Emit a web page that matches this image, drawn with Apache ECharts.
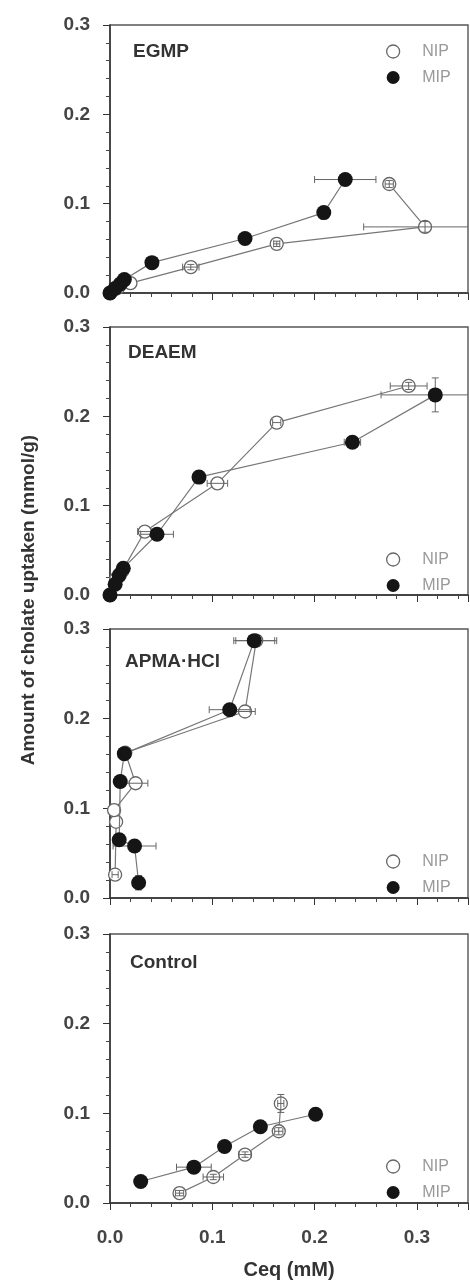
<!DOCTYPE html>
<html>
<head>
<meta charset="utf-8">
<script src="https://cdn.jsdelivr.net/npm/echarts@6/dist/echarts.min.js"></script>
<style>
  html, body { margin: 0; padding: 0; background: #fff; }
  #main { width: 470px; height: 1284px; }
</style>
</head>
<body>
<div id="main"></div>
<script>
// axis ticks
const xTicks = [0, 0.1, 0.2, 0.3]
const yTicks = [0, 0.1, 0.2, 0.3]
const panelNames = ['EGMP', 'DEAEM', 'APMA·HCl', 'Control']

// EGMP
const egmpNipX = [0, 0.008, 0.020, 0.079, 0.163, 0.308, 0.273]
const egmpNipY = [0, 0.006, 0.011, 0.029, 0.055, 0.074, 0.122]
const egmpNipXErr = [0, 0, 0, 0.008, 0.003, 0.060, 0.004]
const egmpNipYErr = [0, 0, 0, 0.003, 0.003, 0.006, 0.004]
const egmpMipX = [0, 0.005, 0.010, 0.014, 0.041, 0.132, 0.209, 0.230]
const egmpMipY = [0, 0.005, 0.010, 0.015, 0.034, 0.061, 0.090, 0.127]
const egmpMipXErr = [0, 0, 0, 0, 0, 0, 0, 0.030]
const egmpMipYErr = [0, 0, 0, 0, 0, 0, 0, 0]

// DEAEM
const deaemNipX = [0, 0.006, 0.012, 0.034, 0.105, 0.163, 0.292]
const deaemNipY = [0, 0.018, 0.027, 0.071, 0.125, 0.193, 0.234]
const deaemNipXErr = [0, 0, 0, 0.007, 0.010, 0.004, 0.018]
const deaemNipYErr = [0, 0, 0, 0, 0, 0, 0.004]
const deaemMipX = [0, 0.005, 0.009, 0.013, 0.046, 0.087, 0.237, 0.318]
const deaemMipY = [0, 0.012, 0.022, 0.030, 0.068, 0.132, 0.171, 0.224]
const deaemMipXErr = [0, 0, 0, 0, 0.016, 0, 0.008, 0.053]
const deaemMipYErr = [0, 0, 0, 0, 0, 0, 0, 0.019]

// APMA·HCl
const apmaNipX = [0.005, 0.006, 0.004, 0.025, 0.015, 0.132, 0.143]
const apmaNipY = [0.026, 0.085, 0.098, 0.128, 0.162, 0.208, 0.287]
const apmaNipXErr = [0.003, 0, 0, 0.012, 0, 0.010, 0.020]
const apmaNipYErr = [0, 0, 0, 0, 0, 0, 0]
const apmaMipX = [0.028, 0.024, 0.009, 0.010, 0.014, 0.117, 0.141]
const apmaMipY = [0.017, 0.058, 0.065, 0.130, 0.161, 0.210, 0.287]
const apmaMipXErr = [0, 0.021, 0, 0, 0, 0.020, 0.020]
const apmaMipYErr = [0.008, 0, 0, 0, 0, 0, 0]

// Control
const ctrlNipX = [0.068, 0.101, 0.132, 0.165, 0.167]
const ctrlNipY = [0.011, 0.029, 0.054, 0.080, 0.111]
const ctrlNipXErr = [0.004, 0.010, 0.006, 0.004, 0.003]
const ctrlNipYErr = [0.003, 0.003, 0.003, 0.004, 0.010]
const ctrlMipX = [0.030, 0.082, 0.112, 0.147, 0.201]
const ctrlMipY = [0.024, 0.040, 0.063, 0.085, 0.099]
const ctrlMipXErr = [0, 0.017, 0, 0, 0]
const ctrlMipYErr = [0, 0, 0, 0, 0]

const FONT = '"Liberation Sans", Arial, sans-serif'

const groups = [
  { nip: [egmpNipX, egmpNipY, egmpNipXErr, egmpNipYErr], mip: [egmpMipX, egmpMipY, egmpMipXErr, egmpMipYErr] },
  { nip: [deaemNipX, deaemNipY, deaemNipXErr, deaemNipYErr], mip: [deaemMipX, deaemMipY, deaemMipXErr, deaemMipYErr] },
  { nip: [apmaNipX, apmaNipY, apmaNipXErr, apmaNipYErr], mip: [apmaMipX, apmaMipY, apmaMipXErr, apmaMipYErr] },
  { nip: [ctrlNipX, ctrlNipY, ctrlNipXErr, ctrlNipYErr], mip: [ctrlMipX, ctrlMipY, ctrlMipXErr, ctrlMipYErr] }
]

// layout of the four stacked panels
const gridTops = [25, 327, 629, 934]
const gridHeights = [268, 268, 269, 269]
const legendTops = [38.5, 546.5, 848.5, 1153.5]
const labelPos = [[133, 42], [128, 343], [125, 652], [130, 953]]

function zip(a) {
  return a[0].map((x, i) => [x, a[1][i], a[2][i], a[3][i]])
}

function renderErr(params, api) {
  const x = api.value(0), y = api.value(1)
  const ex = api.value(2), ey = api.value(3)
  const cs = params.coordSys
  const style = { stroke: '#666', lineWidth: 1 }
  const cap = 3.5
  const children = []
  if (ex > 0) {
    const l = api.coord([x - ex, y])
    const r = api.coord([x + ex, y])
    const lx = Math.max(l[0], cs.x)
    const rx = Math.min(r[0], cs.x + cs.width)
    children.push({ type: 'line', shape: { x1: lx, y1: l[1], x2: rx, y2: r[1] }, style })
    if (l[0] >= cs.x) children.push({ type: 'line', shape: { x1: l[0], y1: l[1] - cap, x2: l[0], y2: l[1] + cap }, style })
    if (r[0] <= cs.x + cs.width) children.push({ type: 'line', shape: { x1: r[0], y1: r[1] - cap, x2: r[0], y2: r[1] + cap }, style })
  }
  if (ey > 0) {
    const b = api.coord([x, y - ey])
    const t = api.coord([x, y + ey])
    children.push({ type: 'line', shape: { x1: b[0], y1: b[1], x2: t[0], y2: t[1] }, style })
    children.push({ type: 'line', shape: { x1: b[0] - cap, y1: b[1], x2: b[0] + cap, y2: b[1] }, style })
    children.push({ type: 'line', shape: { x1: t[0] - cap, y1: t[1], x2: t[0] + cap, y2: t[1] }, style })
  }
  return { type: 'group', children }
}

const grid = [], xAxis = [], yAxis = [], series = [], legend = [], title = []

groups.forEach((g, i) => {
  grid.push({
    left: 110, width: 358, top: gridTops[i], height: gridHeights[i],
    show: true, borderColor: '#555', borderWidth: 1.4, backgroundColor: '#fff'
  })
  xAxis.push({
    type: 'value', gridIndex: i, min: xTicks[0], max: 0.35, interval: 0.1,
    axisLine: { lineStyle: { color: '#333', width: 1.5 } },
    axisTick: { length: 7, lineStyle: { color: '#333' } },
    minorTick: { show: true, splitNumber: 5, length: 4, lineStyle: { color: '#444' } },
    splitLine: { show: false },
    axisLabel: {
      show: i === 3, margin: 25, showMaxLabel: false,
      color: '#444', fontSize: 19, fontWeight: 'bold', fontFamily: FONT,
      formatter: v => v.toFixed(1)
    },
    name: i === 3 ? 'Ceq (mM)' : '',
    nameLocation: 'middle', nameGap: 57,
    nameTextStyle: { color: '#333', fontSize: 20, fontWeight: 'bold', fontFamily: FONT, verticalAlign: 'top' }
  })
  yAxis.push({
    type: 'value', gridIndex: i, min: yTicks[0], max: yTicks[yTicks.length - 1], interval: 0.1,
    axisLine: { lineStyle: { color: '#333', width: 1.5 } },
    axisTick: { length: 7, lineStyle: { color: '#333' } },
    minorTick: { show: true, splitNumber: 5, length: 4, lineStyle: { color: '#444' } },
    splitLine: { show: false },
    axisLabel: {
      margin: 20, color: '#444', fontSize: 19, fontWeight: 'bold', fontFamily: FONT,
      formatter: v => v.toFixed(1)
    }
  })
  series.push({
    name: 'NIP', type: 'line', xAxisIndex: i, yAxisIndex: i, z: 2,
    data: zip(g.nip).map(d => [d[0], d[1]]),
    symbol: 'circle', symbolSize: 13,
    lineStyle: { color: '#777', width: 1.2 },
    itemStyle: { color: '#fff', borderColor: '#666', borderWidth: 1.3 }
  })
  series.push({
    name: 'NIP', type: 'custom', xAxisIndex: i, yAxisIndex: i, z: 3,
    data: zip(g.nip), renderItem: renderErr
  })
  series.push({
    name: 'MIP', type: 'custom', xAxisIndex: i, yAxisIndex: i, z: 3,
    data: zip(g.mip), renderItem: renderErr
  })
  series.push({
    name: 'MIP', type: 'line', xAxisIndex: i, yAxisIndex: i, z: 4,
    data: zip(g.mip).map(d => [d[0], d[1]]),
    symbol: 'circle', symbolSize: 15,
    lineStyle: { color: '#777', width: 1.2 },
    itemStyle: { color: '#151515', borderColor: '#151515', borderWidth: 0 }
  })
  legend.push({
    orient: 'vertical', left: 381, top: legendTops[i],
    itemWidth: 48, itemHeight: 13, itemGap: 10, icon: 'circle',
    selectedMode: false,
    textStyle: { color: '#999', fontSize: 16, fontFamily: FONT },
    data: [
      { name: 'NIP', itemStyle: { color: '#fff', borderColor: '#666', borderWidth: 1.3 } },
      { name: 'MIP', itemStyle: { color: '#151515', borderWidth: 0 } }
    ]
  })
  title.push({
    text: panelNames[i], left: labelPos[i][0], top: labelPos[i][1], padding: 0,
    textStyle: { color: '#333', fontSize: 19, fontWeight: 'bold', fontFamily: FONT }
  })
})

const chart = echarts.init(document.getElementById('main'))
chart.setOption({
  animation: false,
  backgroundColor: '#fff',
  title, grid, xAxis, yAxis, series, legend,
  graphic: [{
    type: 'text', x: 29, y: 600, rotation: Math.PI / 2,
    style: {
      text: 'Amount of cholate uptaken (mmol/g)',
      fill: '#333', font: 'bold 19px ' + FONT,
      textAlign: 'center', textVerticalAlign: 'middle'
    }
  }]
})
</script>
</body>
</html>
